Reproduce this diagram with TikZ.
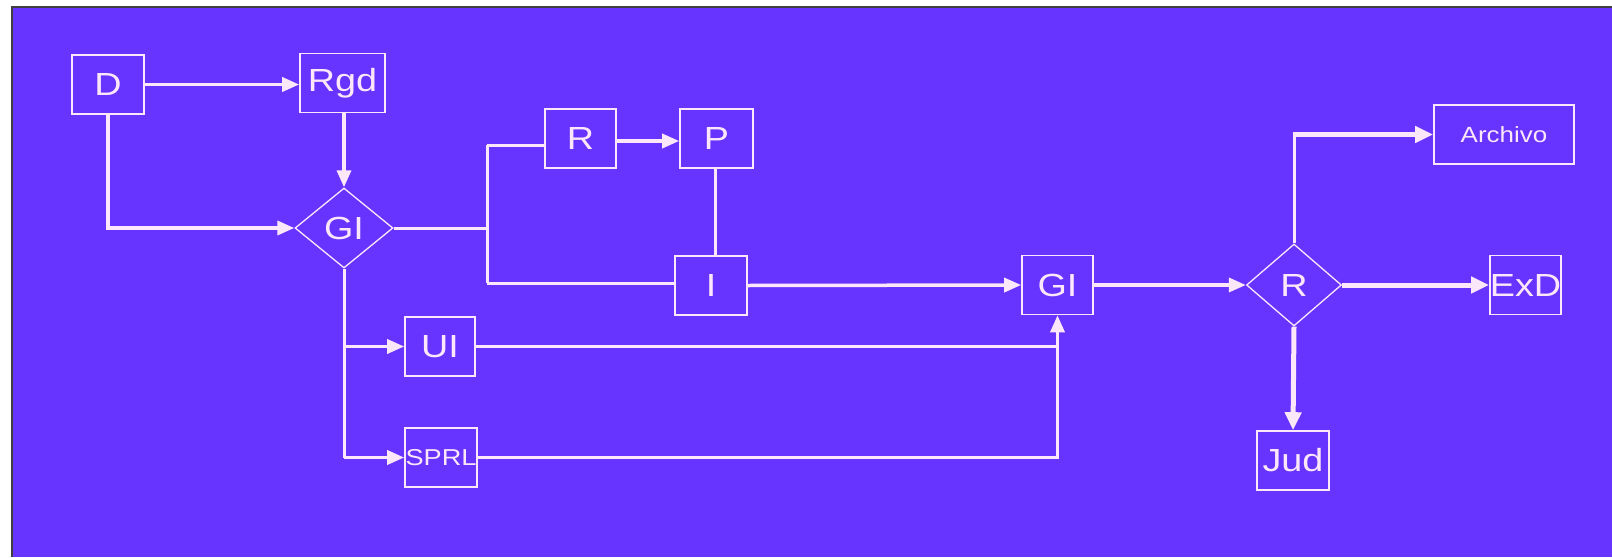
\documentclass[tikz,border=0pt]{standalone}
\usepackage{fontspec}
\setmainfont{Liberation Sans}
\newfontfamily\boxfont[FakeStretch=1.18]{Liberation Sans}
\usetikzlibrary{shapes.geometric,arrows.meta}
\definecolor{bgcol}{RGB}{102,51,255}
\definecolor{linecol}{RGB}{250,232,250}
\tikzset{
  boxnode/.style={draw=linecol, line width=1.6pt, text=linecol, inner sep=0pt,
    minimum height=59pt, font=\boxfont\fontsize{32}{36}\selectfont},
  smallbox/.style={boxnode, font=\boxfont\fontsize{23}{26}\selectfont},
  decision/.style={diamond, draw=linecol, line width=1.3pt, text=linecol, inner sep=0pt,
    font=\boxfont\fontsize{32}{36}\selectfont},
  conn/.style={draw=linecol, line width=3.5pt, -{Triangle[length=17pt,width=14pt]}},
  thickconn/.style={draw=linecol, line width=5pt, -{Triangle[length=18pt,width=16pt]}},
  plain/.style={draw=linecol, line width=3pt},
}
\begin{document}
\begin{tikzpicture}[x=1pt,y=-1pt]
\useasboundingbox (0,0) rectangle (1612,557);
\fill[white] (0,0) rectangle (1612,557);
\fill[bgcol] (12,7) rectangle (1612,557);
\draw[black!75, line width=1.2pt] (12,557) -- (12,7) -- (1612,7);

% nodes
\node[boxnode, minimum width=72pt] (D) at (108,84.5) {D};
\node[boxnode, minimum width=85pt] (Rgd) at (342.5,83) {Rgd};
\node[decision, minimum width=98pt, minimum height=80pt] (GIa) at (344,228) {GI};
\node[boxnode, minimum width=71pt] (Ra) at (580.5,138.5) {R};
\node[boxnode, minimum width=73pt] (P) at (716.5,138.5) {P};
\node[boxnode, minimum width=72pt] (I) at (711,285.5) {I};
\node[boxnode, minimum width=70pt] (UI) at (440,346.5) {UI};
\node[smallbox, minimum width=72pt] (SPRL) at (441,457.5) {SPRL};
\node[boxnode, minimum width=71pt] (GIb) at (1057.5,285) {GI};
\node[decision, minimum width=95pt, minimum height=82pt] (Rb) at (1294,285) {R};
\node[smallbox, minimum width=140pt] (Arch) at (1504,134.5) {\fontsize{22}{26}\selectfont Archivo};
\node[boxnode, minimum width=61pt] (ExD) at (1525.5,285) {ExD};
\node[boxnode, minimum width=72pt] (Jud) at (1293,460.5) {Jud};

% junction coordinates
\coordinate (j1) at (487,228);
\coordinate (j1t) at (487,145);
\coordinate (j1b) at (487,283);
\coordinate (dcorner) at (D.south |- GIa.west);
\coordinate (gdown) at (GIa.south |- SPRL.west);
\coordinate (gmid) at (GIa.south |- UI.west);
\coordinate (uiend) at (GIb.south |- UI.east);
\coordinate (spend) at (GIb.south |- SPRL.east);
\coordinate (rup) at (Rb.north |- Arch.west);

% connectors
\draw[conn] (D.east) -- (Rgd.west |- D.east);
\draw[conn] (D.south) -- (dcorner) -- (GIa.west);
\draw[conn] (Rgd.south -| GIa.north) -- (GIa.north);
\draw[plain] (GIa.east) -- (j1);
\draw[plain] (j1t) -- (j1b);
\draw[plain] (j1t) -- (Ra.west |- j1t);
\draw[plain] (j1b) -- (I.west |- j1b);
\draw[conn] (Ra.east |- 0,141) -- (P.west |- 0,141);
\draw[plain] (P.south -| 715,0) -- (I.north -| 715,0);
\draw[conn] (I.east) -- (GIb.west);
\draw[plain] (GIa.south) -- (gdown);
\draw[conn] (gmid) -- (UI.west);
\draw[conn] (gdown) -- (SPRL.west);
\draw[plain] (UI.east) -- (uiend);
\draw[conn] (SPRL.east) -- (spend) -- (GIb.south);
\draw[conn] (GIb.east) -- (Rb.west);
\draw[plain] (Rb.north) -- (rup);
\draw[thickconn] ([xshift=-1.5pt]rup) -- (Arch.west);
\draw[thickconn] (Rb.east) -- (ExD.west);
\draw[thickconn] (Rb.south) -- (Jud.north);
\end{tikzpicture}
\end{document}
